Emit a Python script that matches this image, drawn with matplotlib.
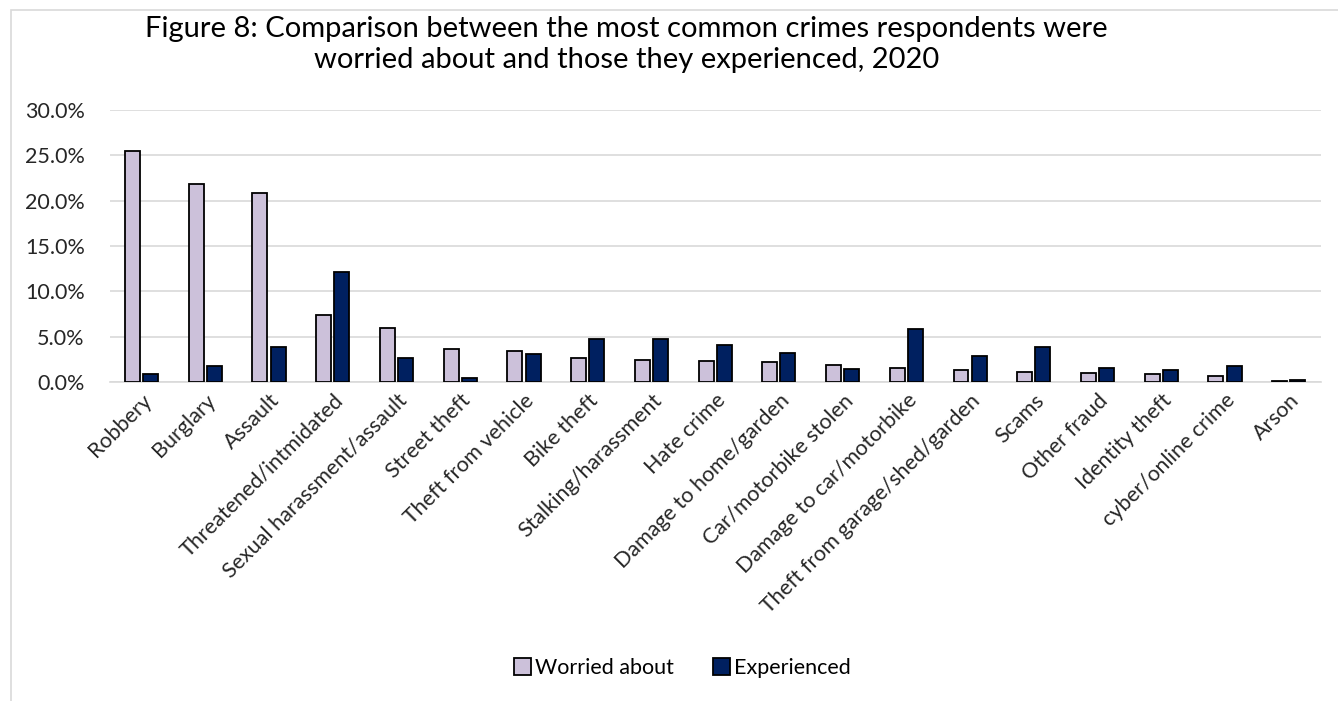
import numpy as np
import matplotlib
import matplotlib.pyplot as plt
from matplotlib.patches import Rectangle
from matplotlib.ticker import FuncFormatter

matplotlib.use('Agg')
plt.rcParams['font.family'] = ['Lato', 'DejaVu Sans']

categories = ["Robbery", "Burglary", "Assault", "Threatened/intmidated",
              "Sexual harassment/assault", "Street theft", "Theft from vehicle",
              "Bike theft", "Stalking/harassment", "Hate crime",
              "Damage to home/garden", "Car/motorbike stolen",
              "Damage to car/motorbike", "Theft from garage/shed/garden",
              "Scams", "Other fraud", "Identity theft", "cyber/online crime",
              "Arson"]
worried = [25.5, 21.8, 20.8, 7.4, 6.0, 3.6, 3.4, 2.6, 2.4, 2.3,
           2.2, 1.9, 1.6, 1.3, 1.1, 1.0, 0.85, 0.65, 0.1]
experienced = [0.9, 1.8, 3.9, 12.1, 2.6, 0.5, 3.1, 4.8, 4.7, 4.1,
               3.2, 1.4, 5.8, 2.9, 3.9, 1.6, 1.3, 1.75, 0.2]
yticks = [0, 5, 10, 15, 20, 25, 30]

fig = plt.figure(figsize=(13.38, 7.01), dpi=100)
# light frame round the chart (runs off the right and bottom edges)
fig.patches.append(Rectangle((0.008, -0.02), 1.0, 1.006, transform=fig.transFigure,
                             fill=False, edgecolor='#d9d9d9', linewidth=1.2))

ax = fig.add_axes([0.082, 0.455, 0.905, 0.388])
x = np.arange(len(categories))
w = 0.235
ax.bar(x - w / 2 - 0.025, worried, w, color='#ccc1da', edgecolor='black',
       linewidth=1.3, label='Worried about', zorder=3)
ax.bar(x + w / 2 + 0.025, experienced, w, color='#002060', edgecolor='black',
       linewidth=1.3, label='Experienced', zorder=3)

ax.set_xlim(-0.5, len(categories) - 0.5)
ax.set_ylim(0, 30)
ax.set_yticks(yticks)
ax.yaxis.set_major_formatter(FuncFormatter(lambda v, p: f"{v:.1f}%"))
ax.grid(axis='y', color='#d9d9d9', linewidth=1.2, zorder=0)
for s in ['top', 'right', 'left']:
    ax.spines[s].set_visible(False)
ax.spines['bottom'].set_color('#d9d9d9')
ax.spines['bottom'].set_linewidth(1.2)
ax.tick_params(axis='both', length=0, labelsize=15.5, colors='#262626')
ax.tick_params(axis='y', pad=18)
ax.tick_params(axis='x', pad=6)
ax.set_xticks(x)
ax.set_xticklabels(categories, rotation=45, ha='right', rotation_mode='anchor')

fig.text(0.468, 0.937, "Figure 8: Comparison between the most common crimes respondents were\nworried about and those they experienced, 2020",
         ha='center', va='center', fontsize=21, color='black', linespacing=1.25)

fig.legend(loc='center', bbox_to_anchor=(0.51, 0.047), ncol=2, frameon=False,
           fontsize=15.5, handlelength=0.8, handleheight=0.8, handletextpad=0.2,
           columnspacing=1.8)

fig.savefig('out.png', dpi=100)
